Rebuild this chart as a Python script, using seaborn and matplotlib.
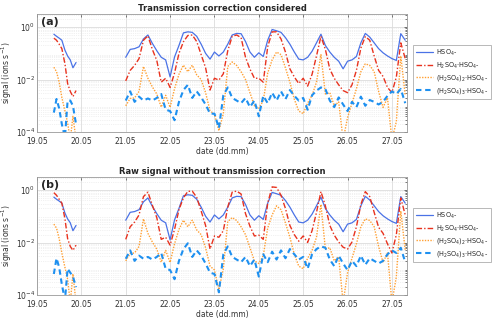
import numpy as np
import matplotlib
matplotlib.use("Agg")
import matplotlib.pyplot as plt
import seaborn as sns
from matplotlib.ticker import FixedLocator, LogLocator, NullFormatter

# time axis (day of May), two measurement periods
t_early = [19.38, 19.44, 19.50, 19.56, 19.63, 19.69, 19.75, 19.81, 19.88]
t_late = [21.0, 21.1, 21.2, 21.3, 21.4, 21.5, 21.6, 21.7, 21.8, 21.9,
          22.0, 22.1, 22.2, 22.3, 22.4, 22.5, 22.6, 22.7, 22.8, 22.9,
          23.0, 23.1, 23.2, 23.3, 23.4, 23.5, 23.6, 23.7, 23.8, 23.9,
          24.0, 24.1, 24.2, 24.3, 24.4, 24.5, 24.6, 24.7, 24.8, 24.9,
          25.0, 25.1, 25.2, 25.3, 25.4, 25.5, 25.6, 25.7, 25.8, 25.9,
          26.0, 26.1, 26.2, 26.3, 26.4, 26.5, 26.6, 26.7, 26.8, 26.9,
          27.0, 27.1, 27.2, 27.3]

# log10 of signal (ions/s)
hso4_early = [-0.27, -0.35, -0.42, -0.5, -0.88, -1.1, -1.25, -1.55, -1.35]
hso4_late = [-1.15, -0.85, -0.82, -0.75, -0.45, -0.3, -0.62, -0.9, -1.15, -1.25,
             -1.9, -1.14, -0.7, -0.22, -0.18, -0.2, -0.35, -0.65, -1.0, -1.22,
             -0.95, -1.1, -0.95, -0.65, -0.3, -0.24, -0.25, -0.55, -0.95, -1.15,
             -0.98, -1.12, -0.5, -0.09, -0.14, -0.2, -0.4, -0.65, -0.95, -1.22,
             -1.25, -1.15, -0.92, -0.6, -0.27, -0.7, -0.95, -1.15, -1.3, -1.59,
             -1.3, -1.25, -1.12, -0.6, -0.24, -0.38, -0.6, -0.82, -0.98, -1.1,
             -1.2, -1.27, -0.25, -0.5]

# panel (a): transmission corrected
mono_a_early = [-0.42, -0.5, -0.65, -0.82, -1.4, -2.15, -2.45, -2.65, -2.42]
mono_a_late = [-2.05, -1.65, -1.46, -1.2, -0.5, -0.33, -0.85, -1.27, -2.1, -1.95,
               -2.3, -1.75, -1.0, -0.56, -0.32, -0.3, -0.55, -1.05, -1.55, -2.4,
               -1.95, -2.02, -1.78, -0.9, -0.35, -0.3, -0.4, -1.15, -1.6, -1.95,
               -1.95, -2.1, -0.75, -0.18, -0.18, -0.45, -0.95, -1.59, -1.9, -2.15,
               -1.95, -2.25, -1.8, -1.1, -0.35, -0.85, -1.6, -1.95, -2.2, -2.42,
               -2.5, -2.2, -1.65, -0.8, -0.36, -0.5, -1.1, -1.65, -1.88, -2.3,
               -2.5, -1.9, -0.6, -1.2]
di_a_early = [-1.53, -1.7, -2.1, -2.68, -3.2, -3.65, -4.3, -3.4, -4.3]
di_a_late = [-3.0, -2.72, -2.7, -2.45, -1.5, -1.95, -2.28, -2.55, -3.05, -2.6,
             -3.06, -2.35, -1.8, -1.45, -1.7, -1.45, -1.82, -2.0, -2.5, -3.19,
             -3.32, -3.95, -3.3, -1.5, -1.33, -1.46, -1.7, -2.0, -2.5, -3.0,
             -3.1, -2.8, -1.75, -1.25, -0.95, -1.05, -1.55, -2.1, -2.75, -3.2,
             -3.3, -2.9, -2.6, -2.1, -1.05, -2.55, -2.5, -3.0, -2.85, -4.3,
             -3.45, -2.9, -2.35, -1.7, -1.4, -1.46, -1.7, -2.45, -3.06, -2.7,
             -4.3, -3.6, -1.1, -2.6]
tri_a_early = [-3.26, -2.74, -3.1, -3.7, -4.2, -2.8, -2.8, -3.0, -3.7]
tri_a_late = [-2.8, -2.45, -2.85, -2.65, -2.8, -2.72, -2.8, -2.7, -2.55, -3.15,
              -3.2, -3.55, -2.85, -2.4, -2.2, -2.7, -2.45, -2.68, -2.95, -3.3,
              -3.3, -3.85, -2.6, -2.3, -2.7, -2.8, -2.9, -2.7, -3.05, -2.8,
              -3.4, -2.62, -2.9, -2.5, -2.8, -2.45, -2.75, -2.4, -2.62, -2.8,
              -2.7, -3.15, -2.6, -2.42, -2.3, -2.36, -2.8, -3.05, -2.68, -2.95,
              -3.2, -2.85, -3.05, -2.65, -3.0, -2.78, -2.85, -2.95, -2.85, -2.62,
              -2.45, -2.55, -2.36, -2.9]

# panel (b): raw signal
mono_b_early = [-0.1, -0.2, -0.35, -0.5, -1.1, -1.85, -2.15, -2.3, -2.1]
mono_b_late = [-1.88, -1.4, -1.22, -0.95, -0.25, -0.08, -0.58, -1.05, -1.88, -1.8,
               -2.1, -1.5, -0.75, -0.3, -0.05, -0.04, -0.28, -0.8, -1.35, -2.25,
               -1.75, -1.8, -1.55, -0.65, -0.08, -0.04, -0.15, -0.9, -1.38, -1.75,
               -1.72, -1.88, -0.5, 0.12, 0.1, -0.2, -0.7, -1.35, -1.7, -1.95,
               -1.75, -2.0, -1.55, -0.85, -0.06, -0.6, -1.35, -1.72, -1.98, -2.18,
               -2.25, -1.98, -1.4, -0.55, -0.06, -0.25, -0.85, -1.42, -1.65, -2.05,
               -2.4, -1.7, -0.3, -0.95]
di_b_early = [-1.3, -1.45, -1.85, -2.4, -2.95, -3.4, -4.3, -3.2, -4.3]
di_b_late = [-2.7, -2.42, -2.4, -2.15, -1.1, -1.65, -1.98, -2.25, -2.75, -2.3,
             -2.76, -2.05, -1.5, -1.15, -1.4, -1.15, -1.52, -1.7, -2.2, -2.9,
             -3.05, -3.8, -3.0, -1.2, -1.05, -1.16, -1.4, -1.7, -2.2, -2.7,
             -2.8, -2.5, -1.45, -0.95, -0.6, -0.75, -1.25, -1.8, -2.45, -2.9,
             -3.0, -2.6, -2.3, -1.8, -0.55, -2.25, -2.2, -2.7, -2.55, -4.3,
             -3.15, -2.6, -2.05, -1.4, -1.1, -1.16, -1.4, -2.15, -2.76, -2.4,
             -4.3, -3.3, -0.8, -2.3]
tri_b_early = [-3.2, -2.6, -2.95, -3.6, -4.2, -3.0, -3.15, -3.3, -3.7]
tri_b_late = [-2.62, -2.3, -2.7, -2.5, -2.62, -2.55, -2.65, -2.55, -2.4, -3.0,
              -3.05, -3.4, -2.7, -2.25, -2.03, -2.55, -2.3, -2.5, -2.8, -3.15,
              -3.2, -3.9, -2.45, -2.15, -2.55, -2.65, -2.75, -2.55, -2.9, -2.65,
              -3.3, -2.45, -2.75, -2.35, -2.65, -2.3, -2.6, -2.25, -2.45, -2.65,
              -2.55, -3.0, -2.45, -2.25, -2.15, -2.2, -2.65, -2.9, -2.5, -2.8,
              -3.05, -2.7, -2.9, -2.5, -2.85, -2.6, -2.7, -2.8, -2.7, -2.45,
              -2.3, -2.4, -2.2, -2.75]

labels = [r"HSO$_4$-", r"H$_2$SO$_4$·HSO$_4$-",
          r"(H$_2$SO$_4$)$_2$·HSO$_4$-", r"(H$_2$SO$_4$)$_3$·HSO$_4$-"]
colors = ["#4a72e6", "#e8321e", "#ffa033", "#1e90f0"]
styles = ["-", (0, (4, 1.5, 1, 1.5)), (0, (1, 1)), (0, (2.6, 1.8))]
widths = [0.9, 1.0, 1.0, 1.5]
day_ticks = [19, 20, 21, 22, 23, 24, 25, 26, 27]
day_labels = ["19.05", "20.05", "21.05", "22.05", "23.05", "24.05", "25.05", "26.05", "27.05"]

sns.set_style("white")
plt.rcParams["font.family"] = ["DejaVu Sans"]

fig = plt.figure(figsize=(5.0, 3.22), dpi=100)
ax_a = fig.add_axes([0.074, 0.590, 0.740, 0.3665])
ax_b = fig.add_axes([0.074, 0.084, 0.740, 0.3665])

panels = [
    (ax_a, "(a)", "Transmission correction considered",
     [(hso4_early, hso4_late), (mono_a_early, mono_a_late),
      (di_a_early, di_a_late), (tri_a_early, tri_a_late)]),
    (ax_b, "(b)", "Raw signal without transmission correction",
     [(hso4_early, hso4_late), (mono_b_early, mono_b_late),
      (di_b_early, di_b_late), (tri_b_early, tri_b_late)]),
]

for ax, tag, title, series in panels:
    for i, (early, late) in enumerate(series):
        for j, (tt, vv) in enumerate([(t_early, early), (t_late, late)]):
            sns.lineplot(x=tt, y=np.power(10.0, vv), ax=ax, color=colors[i],
                         linestyle=styles[i], linewidth=widths[i],
                         label=labels[i] if j == 0 else None, legend=False)
    ax.set_yscale("log")
    ax.set_ylim(1e-4, 10 ** 0.5)
    ax.set_xlim(19.0, 27.34)
    ax.xaxis.set_major_locator(FixedLocator(day_ticks))
    ax.set_xticklabels(day_labels)
    ax.yaxis.set_major_locator(FixedLocator([1e-4, 1e-2, 1e0]))
    ax.yaxis.set_minor_locator(LogLocator(base=10, subs=np.arange(2, 10), numticks=20))
    ax.yaxis.set_minor_formatter(NullFormatter())
    ax.grid(True, which="major", color="#dcdcdc", linewidth=0.6)
    ax.grid(True, which="minor", axis="y", color="#e4e4e4", linewidth=0.5, linestyle=":")
    ax.tick_params(which="both", direction="in", top=True, right=True,
                   labelsize=5.5, length=2, width=0.5, colors="#444444",
                   labelcolor="#333333")
    ax.tick_params(axis="x", pad=3.5)
    ax.tick_params(axis="y", pad=1.5)
    ax.tick_params(which="minor", length=1.2)
    for sp in ax.spines.values():
        sp.set_color("#999999")
        sp.set_linewidth(0.6)
    ax.set_ylabel(r"signal (ions s$^{-1}$)", fontsize=5.5, color="#333333", labelpad=1)
    ax.set_xlabel("date (dd.mm)", fontsize=5.5, color="#333333", labelpad=0.5)
    ax.set_title(title, fontsize=6, fontweight="bold", pad=2)
    ax.text(0.012, 0.975, tag, transform=ax.transAxes, fontsize=8,
            fontweight="bold", va="top", ha="left")
    leg = ax.legend(loc="upper left", bbox_to_anchor=(1.016, 0.74),
                    borderaxespad=0, prop={"size": 4.7}, frameon=True,
                    fancybox=False, edgecolor="#999999", handlelength=2.7,
                    handletextpad=0.4, labelspacing=0.4, borderpad=0.45)
    leg.get_frame().set_linewidth(0.6)

fig.savefig("out.png", dpi=100)
